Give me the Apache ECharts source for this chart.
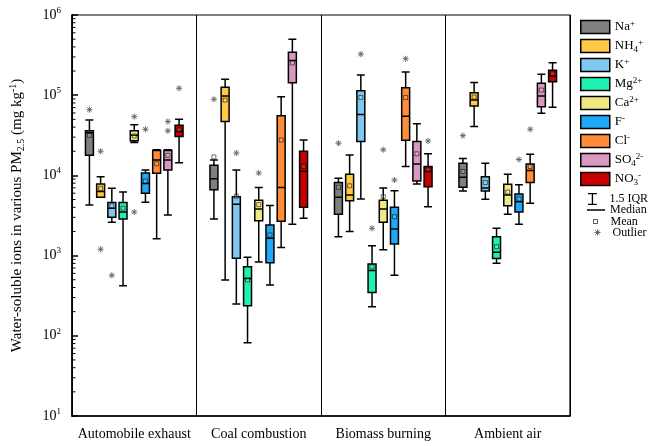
<!DOCTYPE html>
<html>
<head>
<meta charset="utf-8">
<script src="https://cdn.jsdelivr.net/npm/echarts@6/dist/echarts.min.js"></script>
<style>html,body{margin:0;padding:0;background:#fff}#c{width:652px;height:446px}</style>
</head>
<body>
<div id="c"></div>
<script>
const categories = ['Automobile exhaust', 'Coal combustion', 'Biomass burning', 'Ambient air'];
const ionNames = ['Na+', 'NH4+', 'K+', 'Mg2+', 'Ca2+', 'F-', 'Cl-', 'SO42-', 'NO3-'];
const ionLabels = ['Na{sup|+}', 'NH{sub|4}{sup|+}', 'K{sup|+}', 'Mg{sup|2+}', 'Ca{sup|2+}', 'F{sup|-}', 'Cl{sup|-}', 'SO{sub|4}{sup|2-}', 'NO{sub|3}{sup|-}'];
const ionColors = ['#7f7f7f', '#ffc845', '#80c8f0', '#20f0b0', '#f0e880', '#20a8f8', '#ff8c38', '#d898c0', '#c80000'];
const yTickValues = [10, 100, 1000, 10000, 100000, 1000000];
const minorTickFactors = [2, 3, 4, 5, 6, 7, 8, 9];

// [min, Q1, median, Q3, max] per category
const boxNa   = [[4270, 17800, 34000, 36000, 49000], [2860, 6640, 9100, 13400, 15600], [1720, 3270, 5350, 8150, 9200], [6400, 7100, 9460, 14200, 16300]];
const boxNH4  = [[5350, 5350, 6300, 7800, 9600], [497, 47000, 98000, 126000, 158000], [2000, 4840, 5690, 10300, 17900], [40600, 73300, 87000, 107000, 144000]];
const boxK    = [[2600, 3000, 3890, 4580, 6900], [249, 930, 4380, 5430, 11700], [5080, 26400, 57600, 114000, 178000], [5040, 6400, 6950, 9600, 14200]];
const boxMg   = [[422, 2860, 3490, 4580, 6200], [82, 237, 520, 725, 955], [231, 347, 650, 785, 1330], [800, 920, 1100, 1720, 2190]];
const boxCa   = [[25800, 27000, 31700, 36000, 42900], [830, 2720, 3800, 4900, 7050], [1180, 2600, 3800, 4900, 6940], [3270, 4170, 5690, 7760, 10300]];
const boxF    = [[4640, 6000, 7950, 10700, 11700], [430, 815, 1640, 2400, 4200], [570, 1400, 2140, 4000, 6440], [2460, 3490, 4690, 5860, 7620]];
const boxCl   = [[1620, 10600, 15600, 20500, 20900], [1260, 2680, 7050, 55600, 95800], [12900, 27500, 54500, 124000, 195000], [4480, 8150, 11500, 13900, 18300]];
const boxSO4  = [[3200, 11700, 15600, 20500, 20900], [2460, 143000, 270000, 343000, 500000], [7800, 8540, 13900, 26400, 44100], [59600, 72000, 98000, 141000, 183000]];
const boxNO3  = [[14400, 30500, 35300, 42100, 50000], [2920, 4000, 11300, 20000, 27600], [4070, 7200, 11200, 12900, 18600], [71000, 147000, 174000, 205000, 254000]];

// means per category
const meanNa  = [31600, 17000, 7100, 11200];
const meanNH4 = [6900, 87000, 7420, 95000];
const meanK   = [4170, 5500, 93800, 8150];
const meanMg  = [3900, 497, 725, 1290];
const meanCa  = [31000, 4320, 5430, 6200];
const meanF   = [8500, 1810, 3050, 5100];
const meanCl  = [14000, 27600, 93800, 12900];
const meanSO4 = [17800, 252000, 18600, 116000];
const meanNO3 = [37000, 12900, 11800, 185000];

// outliers: [categoryIndex, ionIndex, value]
const outliers = [
  [0, 0, 66000], [0, 1, 20000], [0, 1, 1200], [0, 2, 568], [0, 4, 54000], [0, 4, 3490],
  [0, 5, 37600], [0, 7, 47000], [0, 7, 36000], [0, 8, 122000],
  [1, 0, 89000], [1, 2, 19000], [1, 4, 10700],
  [2, 0, 25200], [2, 2, 325000], [2, 3, 2190], [2, 4, 20900], [2, 5, 8770], [2, 6, 285000], [2, 8, 26900],
  [3, 0, 31300], [3, 5, 15800], [3, 6, 37600]
];

const boxes = [boxNa, boxNH4, boxK, boxMg, boxCa, boxF, boxCl, boxSO4, boxNO3];
const means = [meanNa, meanNH4, meanK, meanMg, meanCa, meanF, meanCl, meanSO4, meanNO3];

const FONT = "'Liberation Serif', 'DejaVu Serif', serif";

// same layout rule as ECharts boxplot for multiple series
function boxOffset(bandWidth, ion) {
  const n = ionNames.length;
  const avail = bandWidth * 0.8 - 2;
  const gap = avail / n * 0.3;
  const w = (avail - gap * (n - 1)) / n;
  return w / 2 - avail / 2 + ion * (gap + w);
}

const meanData = [];
means.forEach((arr, i) => arr.forEach((v, c) => meanData.push([c, i, v])));

const minorData = [];
yTickValues.slice(0, -1).forEach(d => minorTickFactors.forEach(f => minorData.push([0, d * f])));

const series = [];
ionNames.forEach((name, i) => {
  series.push({
    type: 'boxplot',
    name: name,
    data: boxes[i],
    itemStyle: { color: ionColors[i], borderColor: '#000', borderWidth: 1.5 },
    emphasis: { disabled: true },
    z: 2
  });
});
series.push({
  type: 'custom',
  name: 'Mean',
  data: meanData,
  encode: { x: 0, y: 2 },
  z: 4,
  silent: true,
  renderItem: function (params, api) {
    const c = api.value(0), i = api.value(1), v = api.value(2);
    const p = api.coord([c, v]);
    const bw = api.size([1, 0], [c, v])[0];
    const x = p[0] + boxOffset(bw, i);
    return { type: 'rect', shape: { x: x - 2, y: p[1] - 2, width: 4, height: 4 },
      style: { fill: 'rgba(255,255,255,0.15)', stroke: 'rgba(0,0,0,0.55)', lineWidth: 1 } };
  }
});
series.push({
  type: 'custom',
  name: 'Outlier',
  data: outliers,
  encode: { x: 0, y: 2 },
  z: 4,
  silent: true,
  renderItem: function (params, api) {
    const c = api.value(0), i = api.value(1), v = api.value(2);
    const p = api.coord([c, v]);
    const bw = api.size([1, 0], [c, v])[0];
    const x = p[0] + boxOffset(bw, i), y = p[1];
    const s = { stroke: '#6a6a6a', lineWidth: 1 };
    const r = 3, d = 2.2;
    return { type: 'group', children: [
      { type: 'line', shape: { x1: x - r, y1: y, x2: x + r, y2: y }, style: s },
      { type: 'line', shape: { x1: x, y1: y - r, x2: x, y2: y + r }, style: s },
      { type: 'line', shape: { x1: x - d, y1: y - d, x2: x + d, y2: y + d }, style: s },
      { type: 'line', shape: { x1: x + d, y1: y - d, x2: x - d, y2: y + d }, style: s }
    ] };
  }
});
series.push({ type: 'line', name: '1.5 IQR', data: [] });
series.push({ type: 'line', name: 'Median', data: [] });
series.push({
  type: 'custom',
  name: 'minorTicks',
  data: minorData,
  encode: { x: 0, y: 1 },
  z: 5,
  silent: true,
  clip: false,
  renderItem: function (params, api) {
    const v = api.value(1);
    const p = api.coord([0, v]);
    const bw = api.size([1, 0], [0, v])[0];
    const x0 = p[0] - bw / 2;
    return { type: 'line', shape: { x1: x0, y1: p[1], x2: x0 + 3.5, y2: p[1] }, style: { stroke: '#000', lineWidth: 1 } };
  }
});

const richLegend = {
  sup: { fontSize: 9, fontFamily: FONT, verticalAlign: 'top', lineHeight: 9, color: '#000' },
  sub: { fontSize: 9, fontFamily: FONT, verticalAlign: 'bottom', lineHeight: 9, color: '#000' }
};

const markerLegend = (name, left, top, w, h, icon, itemStyle, padLeft) => ({
  orient: 'vertical', left: left, top: top, itemWidth: w, itemHeight: h,
  selectedMode: false,
  data: [{ name: name, icon: icon, itemStyle: itemStyle }],
  textStyle: { fontFamily: FONT, fontSize: 12, color: '#000', padding: [0, 0, 0, padLeft] }
});

const option = {
  animation: false,
  backgroundColor: '#fff',
  grid: { left: 72, right: 82, top: 15, bottom: 30, show: true, borderColor: '#000', borderWidth: 1.2, backgroundColor: 'transparent' },
  xAxis: {
    type: 'category',
    data: categories,
    axisLine: { lineStyle: { color: '#000', width: 1.5 } },
    axisTick: { alignWithLabel: true, interval: 0, length: 5, lineStyle: { color: '#000', width: 1.5 } },
    axisLabel: { interval: 0, fontFamily: FONT, fontSize: 14, color: '#000', margin: 11 },
    splitLine: { show: true, interval: 0, lineStyle: { color: '#000', width: 1 } }
  },
  yAxis: {
    type: 'log',
    logBase: 10,
    min: 10,
    max: 1000000,
    name: 'Water-soluble ions in various PM{sub|2.5} (mg kg{sup|-1})',
    nameLocation: 'middle',
    nameGap: 46,
    nameTextStyle: {
      fontFamily: FONT, fontSize: 15, color: '#000', lineHeight: 18,
      rich: {
        sub: { fontSize: 10, fontFamily: FONT, verticalAlign: 'bottom', lineHeight: 10 },
        sup: { fontSize: 10, fontFamily: FONT, verticalAlign: 'top', lineHeight: 10 }
      }
    },
    axisLine: { show: true, lineStyle: { color: '#000', width: 1.5 } },
    axisTick: { show: true, inside: true, length: 6, lineStyle: { color: '#000', width: 1.5 } },
    splitLine: { show: false },
    axisLabel: {
      fontFamily: FONT, fontSize: 14, color: '#000', margin: 11, lineHeight: 18,
      formatter: v => '10{sup|' + Math.round(Math.log10(v)) + '}',
      rich: { sup: { fontSize: 9, fontFamily: FONT, verticalAlign: 'top', lineHeight: 11, color: '#000' } }
    }
  },
  legend: [
    {
      orient: 'vertical', left: 575, top: 14, itemWidth: 29, itemHeight: 13, itemGap: 3,
      selectedMode: false,
      data: ionNames.map((n, i) => ({ name: n, icon: 'rect', itemStyle: { color: ionColors[i], borderColor: '#000', borderWidth: 1.5 } })),
      formatter: n => ionLabels[ionNames.indexOf(n)],
      textStyle: { fontFamily: FONT, fontSize: 13, color: '#000', lineHeight: 16, rich: richLegend }
    },
    markerLegend('1.5 IQR', 583, 188, 10, 12, 'path://M0,0h10v1.5h-4.25v10.5h4.25v1.5h-10v-1.5h4.25v-10.5h-4.25z', { color: '#000', borderWidth: 0 }, 7),
    markerLegend('Median', 582, 199, 18, 1.5, 'rect', { color: '#000', borderWidth: 0 }, 0),
    markerLegend('Mean', 588, 210.5, 4, 4, 'rect', { color: '#fff', borderColor: '#555', borderWidth: 1 }, 8),
    markerLegend('Outlier', 587, 221.5, 6, 6, 'path://M0,3H6M3,0V6M0.9,0.9L5.1,5.1M5.1,0.9L0.9,5.1', { color: 'none', borderColor: '#666', borderWidth: 1 }, 7)
  ],
  series: series
};

const chart = echarts.init(document.getElementById('c'), null, { renderer: 'canvas' });
chart.setOption(option);
</script>
</body>
</html>
